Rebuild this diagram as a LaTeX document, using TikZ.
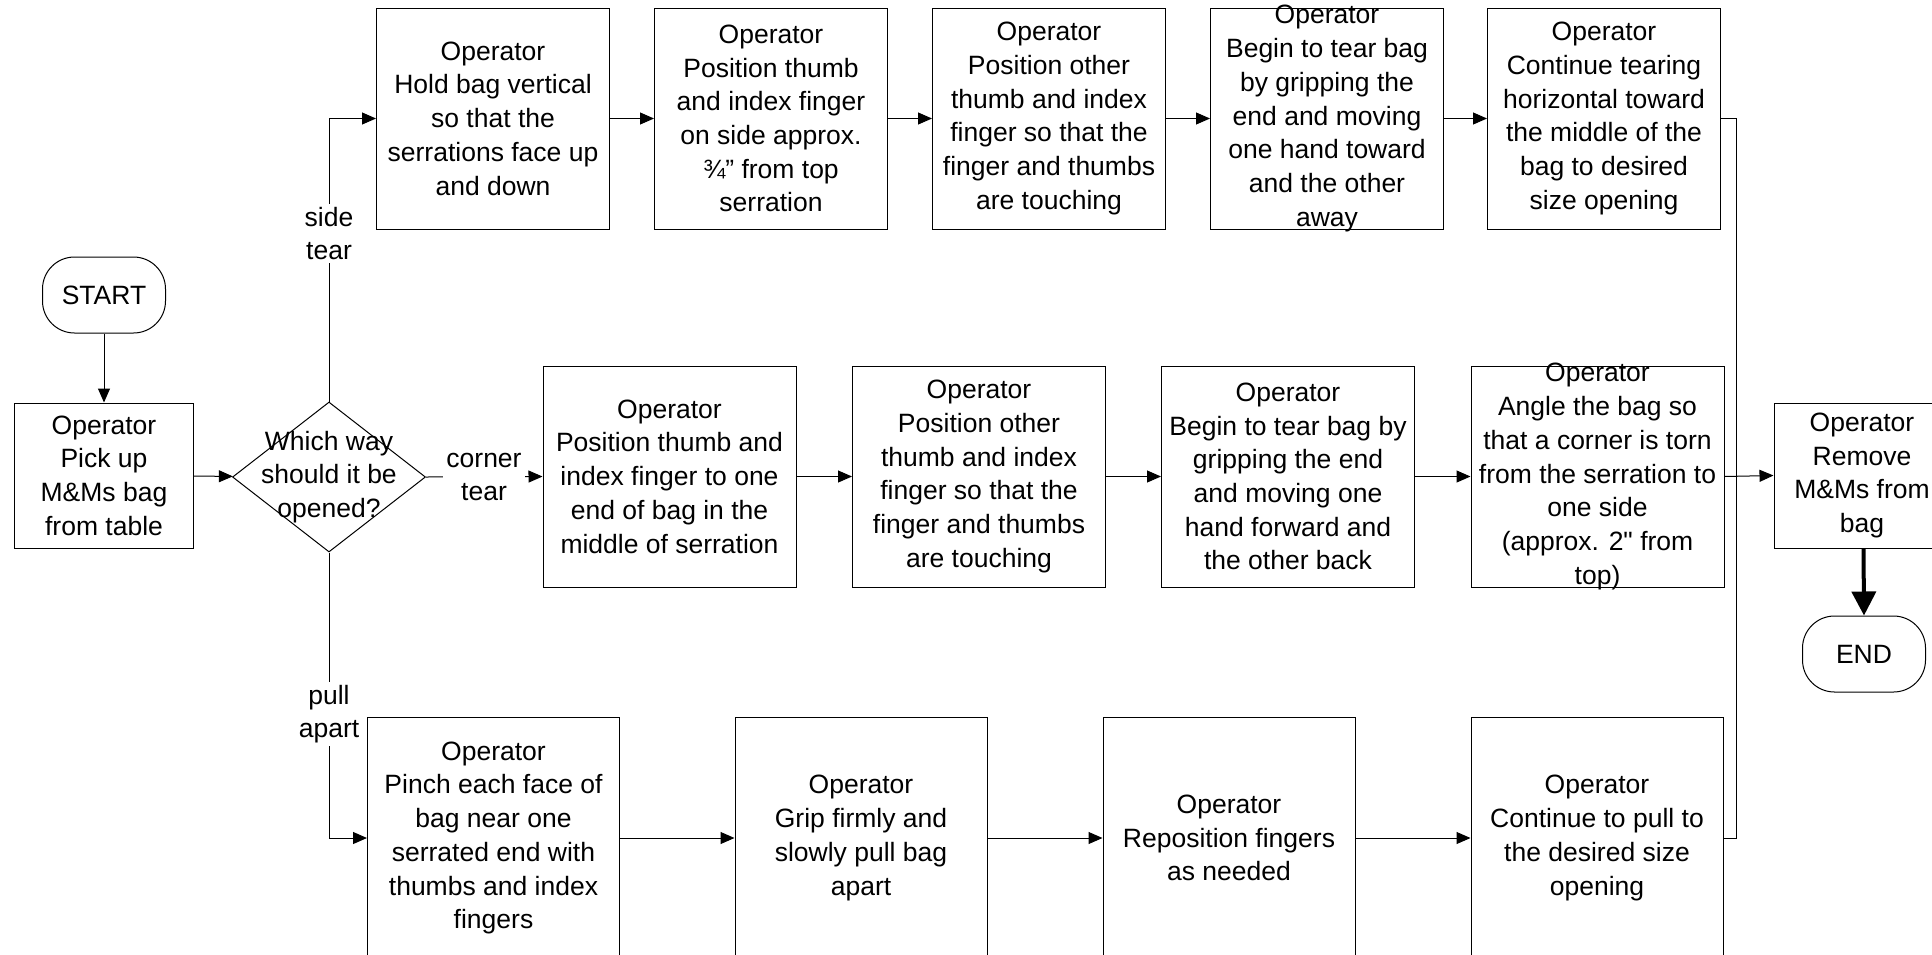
\documentclass[tikz,border=0pt]{standalone}
\usepackage{fontspec}
\setmainfont{Liberation Sans}[Ligatures=TeXOff]
\usetikzlibrary{arrows.meta,shapes.geometric}
\begin{document}
\begin{tikzpicture}[x=1pt,y=-1pt,
  ln/.style={line width=1pt,draw=black},
  arr/.style={ln,-{Triangle[length=14pt,width=12pt]}},
  bigarr/.style={draw=black,line width=4pt,-{Triangle[length=24pt,width=24pt]}},
  txt/.style={align=center,inner sep=0pt,font=\fontsize{26.5}{33.7}\selectfont},
  box/.style={ln,inner sep=0pt,rectangle},
  toprow/.style={box,minimum width=233pt,minimum height=221pt},
  midrow/.style={box,minimum width=253pt,minimum height=221pt},
  botrow/.style={box,minimum width=252pt,minimum height=242pt},
  sidebox/.style={box,minimum width=179pt,minimum height=145pt},
  term/.style={ln,rounded corners=32pt,minimum width=123pt,minimum height=76pt,inner sep=0pt,font=\fontsize{26.5}{33.7}\selectfont},
  decision/.style={ln,diamond,inner sep=0pt,minimum width=193pt,minimum height=150pt},
  lbl/.style={txt,fill=white,inner sep=3pt}
]
\useasboundingbox (0,0) rectangle (1932,954);
\clip (0,0) rectangle (1932,954);

% terminals and left part
\node[term] (start) at (104,295) {START};
\node[sidebox] (pick) at (104,475.5) {};
\node[txt] at (pick) {Operator\\Pick up\\M\&Ms bag\\from table};
\node[decision] (dec) at (329,477) {};
\node[txt] at (dec) {Which way\\should it be\\opened?};

% top row
\node[toprow] (b1) at (493,118.5) {};
\node[toprow] (b2) at (771,118.5) {};
\node[toprow] (b3) at (1049,118.5) {};
\node[toprow] (b4) at (1327,118.5) {};
\node[toprow] (b5) at (1604,118.5) {};
\node[txt] at (b1) {Operator\\Hold bag vertical\\so that the\\serrations face up\\and down};
\node[txt] at (b2) {Operator\\Position thumb\\and index finger\\on side approx.\\¾” from top\\serration};
\node[txt] at (b3) {Operator\\Position other\\thumb and index\\finger so that the\\finger and thumbs\\are touching};
\node[txt] at (b4) {Operator\\Begin to tear bag\\by gripping the\\end and moving\\one hand toward\\and the other\\away};
\node[txt] at (b5) {Operator\\Continue tearing\\horizontal toward\\the middle of the\\bag to desired\\size opening};

% middle row
\node[midrow] (m1) at (669.5,476.5) {};
\node[midrow] (m2) at (979,476.5) {};
\node[midrow] (m3) at (1288,476.5) {};
\node[midrow] (m4) at (1597.5,476.5) {};
\node[txt] at (m1) {Operator\\Position thumb and\\index finger to one\\end of bag in the\\middle of serration};
\node[txt] at (m2) {Operator\\Position other\\thumb and index\\finger so that the\\finger and thumbs\\are touching};
\node[txt] at (m3) {Operator\\Begin to tear bag by\\gripping the end\\and moving one\\hand forward and\\the other back};
\node[txt] at (m4) {Operator\\Angle the bag so\\that a corner is torn\\from the serration to\\one side\\(approx. 2" from\\top)};

% bottom row
\node[botrow] (l1) at (493.5,838) {};
\node[botrow] (l2) at (861,838) {};
\node[botrow] (l3) at (1229,838) {};
\node[botrow] (l4) at (1597,838) {};
\node[txt] at (l1) {Operator\\Pinch each face of\\bag near one\\serrated end with\\thumbs and index\\fingers};
\node[txt] at (l2) {Operator\\Grip firmly and\\slowly pull bag\\apart};
\node[txt] at (l3) {Operator\\Reposition fingers\\as needed};
\node[txt] at (l4) {Operator\\Continue to pull to\\the desired size\\opening};

% right part
\node[sidebox] (rem) at (1863.5,475.5) {};
\node[txt] at ([xshift=-1.5pt]rem.center) {Operator\\Remove\\M\&Ms from\\bag};
\node[term] (end) at (1864,654) {END};

% connectors
\draw[arr] (start) -- (pick);
\draw[arr] (pick) -- (dec);
\draw[arr] (dec.north) |- (b1.west);
\draw[arr] (dec.east) -- (m1.west);
\draw[arr] (dec.south) |- (l1.west);
\draw[arr] (b1) -- (b2);
\draw[arr] (b2) -- (b3);
\draw[arr] (b3) -- (b4);
\draw[arr] (b4) -- (b5);
\draw[arr] (m1) -- (m2);
\draw[arr] (m2) -- (m3);
\draw[arr] (m3) -- (m4);
\draw[arr] (l1) -- (l2);
\draw[arr] (l2) -- (l3);
\draw[arr] (l3) -- (l4);
\coordinate (jt) at (1736,118.5);
\coordinate (jb) at (1736,838);
\draw[ln] (b5.east) -- (jt) -- (jb) -- (l4.east);
\draw[arr] (m4.east) -- (rem.west);
\draw[bigarr] (rem.south) -- (end.north);

% branch labels
\node[lbl] (lside) at (329,233.5) {side\\tear};
\node[lbl] (lcorner) at (484,477) {corner\\tear};
\node[lbl] (lpull) at (329,714) {pull\\apart};
\end{tikzpicture}
\end{document}
